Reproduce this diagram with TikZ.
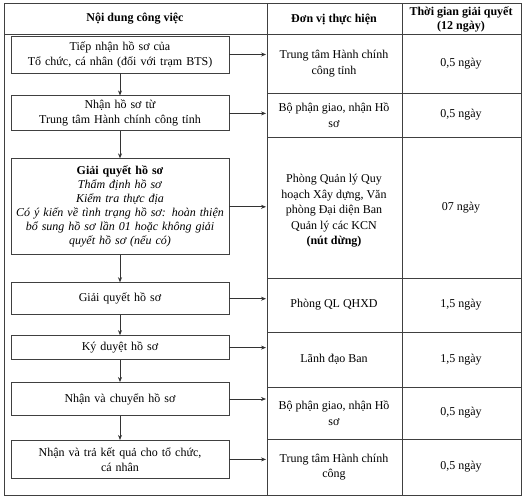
\documentclass[tikz,border=0pt]{standalone}
\usepackage{fontspec}
\setmainfont{Liberation Serif}
\usetikzlibrary{arrows.meta, positioning}

\begin{document}
\begin{tikzpicture}[
  x=1pt, y=-1pt,
  >={Stealth[length=5pt, width=4pt]},
  grid/.style={draw=black!75, line width=0.9pt},
  stepbox/.style={draw=black!75, line width=0.9pt, align=center, text width=214pt,
    inner xsep=2pt, inner ysep=1pt, font=\fontsize{12}{15}\selectfont},
  cell/.style={align=center, font=\fontsize{12}{15.5}\selectfont},
  head/.style={align=center, font=\fontsize{12}{14}\selectfont\bfseries},
  link/.style={->, draw=black!80, line width=0.7pt},
]
\useasboundingbox (0,0) rectangle (525,498);

\draw[grid] (4,3) rectangle (521,495);
\draw[grid] (267,3) -- (267,495);
\draw[grid] (402,3) -- (402,495);
\draw[grid] (4,34) -- (521,34);
\foreach \y in {93,137,278,332,387,439}
  \draw[grid] (267,\y) -- (521,\y);
\coordinate (colsep) at (266,0);

\node[head] (hnoidung) at (135,19) {Nội dung công việc};
\node[head] (hdonvi) at (334,19) {Đơn vị thực hiện};
\node[head] (hthoigian) at (461,19) {Thời gian giải quyết\\(12 ngày)};

\node[stepbox, minimum height=37pt] (tiepnhan) at (120,54.5) {Tiếp nhận hồ sơ của\\Tổ chức, cá nhân (đối với trạm BTS)};
\node[stepbox, minimum height=35pt, below=22pt of tiepnhan] (nhanhs) {Nhận hồ sơ từ\\Trung tâm Hành chính công tỉnh};
\node[stepbox, minimum height=96pt, inner ysep=0pt, font=\fontsize{12}{14}\selectfont,
  below=27pt of nhanhs] (giaiquyet) {\textbf{Giải quyết hồ sơ}\\\textit{Thẩm định hồ sơ}\\\textit{Kiểm tra thực địa}\\\textit{Có ý kiến về tình trạng hồ sơ: hoàn thiện}\\\textit{bổ sung hồ sơ lần 01 hoặc không giải}\\\textit{quyết hồ sơ (nếu có)}};
\node[stepbox, minimum height=32pt, below=27pt of giaiquyet] (giaiquyet2) {Giải quyết hồ sơ};
\node[stepbox, minimum height=24pt, below=20pt of giaiquyet2] (kyduyet) {Ký duyệt hồ sơ};
\node[stepbox, minimum height=33pt, below=22pt of kyduyet] (chuyen) {Nhận và chuyển hồ sơ};
\node[stepbox, minimum height=38pt, below=24pt of chuyen] (tra) {Nhận và trả kết quả cho tổ chức,\\cá nhân};

\draw[link] (tiepnhan) -- (nhanhs);
\draw[link] (nhanhs) -- (giaiquyet);
\draw[link] (giaiquyet) -- (giaiquyet2);
\draw[link] (giaiquyet2) -- (kyduyet);
\draw[link] (kyduyet) -- (chuyen);
\draw[link] (chuyen) -- (tra);

\foreach \b in {tiepnhan, nhanhs, giaiquyet, giaiquyet2, kyduyet, chuyen, tra}
  \draw[link] (\b.east) -- (\b.east -| colsep);

\node[cell] (dv1) at (334,63.5) {Trung tâm Hành chính\\công tỉnh};
\node[cell] (dv2) at (334,115) {Bộ phận giao, nhận Hồ\\sơ};
\node[cell] (dv3) at (334,211) {Phòng Quản lý Quy\\hoạch Xây dựng, Văn\\phòng Đại diện Ban\\Quản lý các KCN\\\textbf{(nút dừng)}};
\node[cell] (dv4) at (334,305) {Phòng QL QHXD};
\node[cell] (dv5) at (334,359.5) {Lãnh đạo Ban};
\node[cell] (dv6) at (334,413) {Bộ phận giao, nhận Hồ\\sơ};
\node[cell] (dv7) at (334,467) {Trung tâm Hành chính\\công};

\node[cell] (tg1) at (461,63.5) {0,5 ngày};
\node[cell] (tg2) at (461,115) {0,5 ngày};
\node[cell] (tg3) at (461,207.5) {07 ngày};
\node[cell] (tg4) at (461,305) {1,5 ngày};
\node[cell] (tg5) at (461,359.5) {1,5 ngày};
\node[cell] (tg6) at (461,413) {0,5 ngày};
\node[cell] (tg7) at (461,467) {0,5 ngày};
\end{tikzpicture}
\end{document}
